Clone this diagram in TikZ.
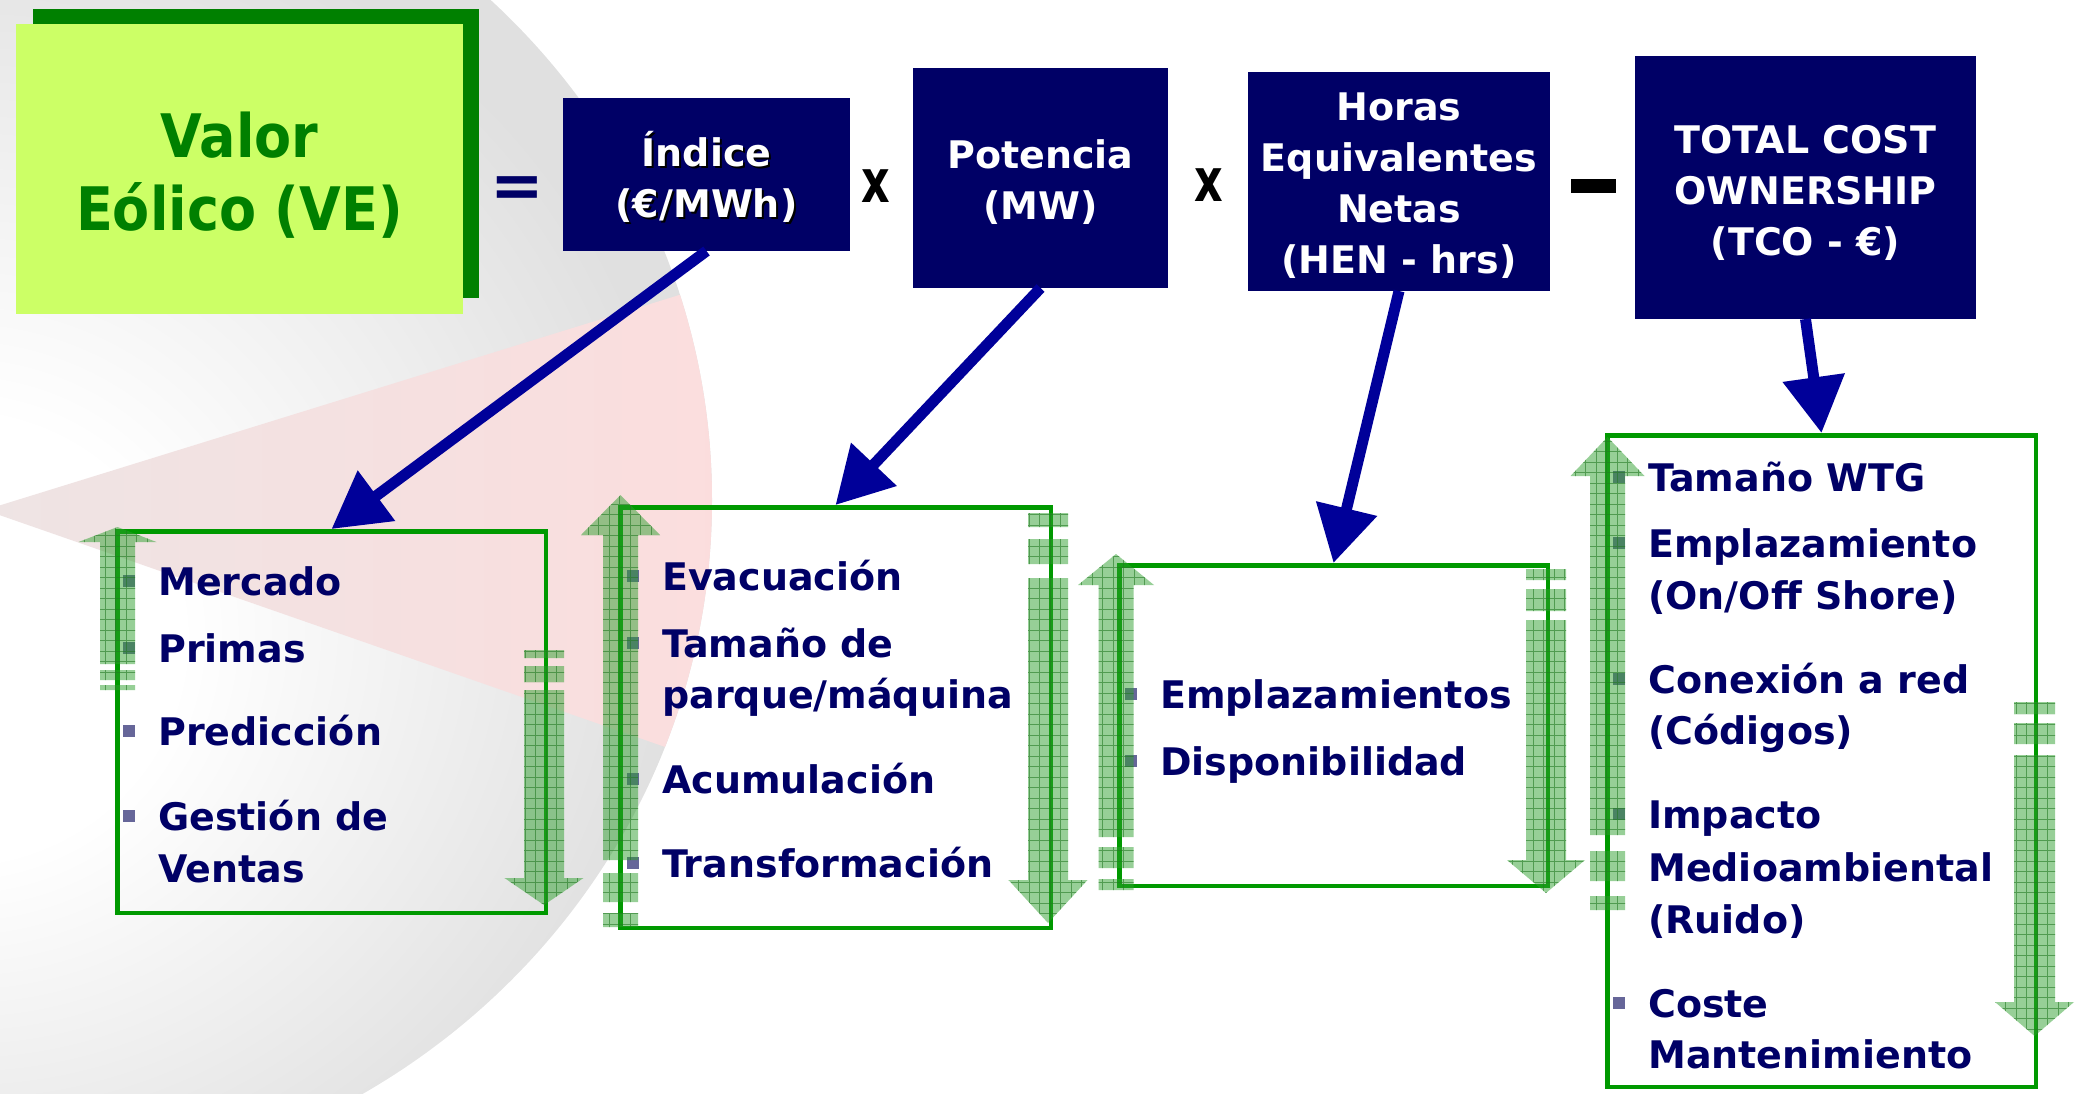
\documentclass[tikz,border=0pt]{standalone}
\usepackage{fontspec}
\setmainfont{DejaVu Sans}
\newfontfamily\narrowfont{DejaVu Sans}[FakeStretch=0.9]
\usetikzlibrary{arrows.meta}
\definecolor{navy}{HTML}{000066}
\definecolor{arrowblue}{HTML}{000099}
\definecolor{limec}{HTML}{CCFF66}
\definecolor{dgreen}{HTML}{008000}
\definecolor{boxgreen}{HTML}{009900}
\definecolor{bulletc}{HTML}{666699}
\definecolor{gfillc}{HTML}{2FA02F}
\pgfdeclareradialshading{bgshade}{\pgfpoint{-2bp}{-6bp}}{color(0bp)=(white); color(8bp)=(white); color(18bp)=(black!7); color(25bp)=(black!12); color(50bp)=(black!12)}
\begin{document}
\begin{tikzpicture}[x=1pt,y=-1pt,
 navybox/.style={fill=navy, inner sep=0pt, outer sep=0pt},
 navytext/.style={text=white, inner sep=0pt, align=center, font=\bfseries\fontsize{38}{51}\selectfont},
 itembox/.style={draw=boxgreen, line width=4.5pt, inner sep=0pt},
 itemtext/.style={anchor=base west, text=navy, inner sep=0pt, font=\bfseries\fontsize{38}{52}\selectfont},
 bul/.style={fill=bulletc, minimum size=12pt, inner sep=0pt, outer sep=0pt},
 conn/.style={draw=arrowblue, line width=11pt, -{Triangle[length=56pt,width=60pt]}},
 gfill/.style={fill=gfillc, fill opacity=0.5},
 ggrid/.style={draw=gfillc!75!black, line width=0.7pt, draw opacity=0.6},
]
\useasboundingbox (0,0) rectangle (2081,1093);
% background
\begin{scope}
\clip (0,0) rectangle (2081,1093);
\shade[shading=bgshade] (0,500) ellipse[x radius=712pt, y radius=690pt];
\clip (0,500) ellipse[x radius=712pt, y radius=690pt];
\shade[left color={rgb,255:red,238;green,228;blue,228}, right color={rgb,255:red,252;green,221;blue,221}] (-15,510) -- (760,270) -- (760,780) -- cycle;
\end{scope}

% title box
\fill[dgreen] (33,9) rectangle (479,298);
\node[fill=limec, minimum width=447, minimum height=290, inner sep=0pt, outer sep=0pt] (ve) at (239.5,169) {};
\node[text=dgreen, inner sep=0pt, align=center, font=\narrowfont\bfseries\fontsize{60}{73}\selectfont] (vet) at (239.5,175) {Valor\\Eólico (VE)};

% navy boxes
\node[navybox, minimum width=287, minimum height=153] (idx) at (706.5,174.5) {};
\node[navytext, text=black] (idxs) at (708.5,178.5) {Índice\\(€/MWh)};
\node[navytext] (idxt) at (706.5,176.5) {Índice\\(€/MWh)};
\node[navybox, minimum width=255, minimum height=220] (pot) at (1040.5,178) {};
\node[navytext] (pott) at (1040.5,182) {Potencia\\(MW)};
\node[navybox, minimum width=302, minimum height=219] (hen) at (1399,181.5) {};
\node[navytext] (hent) at (1399,185.5) {Horas\\Equivalentes\\Netas\\(HEN - hrs)};
\node[navybox, minimum width=341, minimum height=263] (tco) at (1805.5,187.5) {};
\node[navytext] (tcot) at (1805.5,192.5) {TOTAL COST\\OWNERSHIP\\(TCO - €)};

% operators
\node[text=navy, inner sep=0pt, font=\bfseries\fontsize{64}{64}\selectfont] (eq) at (517,192) {=};
\node[text=black, inner sep=0pt, font=\bfseries\fontsize{60}{60}\selectfont] (x1) at (876,186.5) {\scalebox{0.74}[1]{x}};
\node[text=black, inner sep=0pt, font=\bfseries\fontsize{60}{60}\selectfont] (x2) at (1208.5,185) {\scalebox{0.74}[1]{x}};
\node[fill=black, minimum width=45, minimum height=14, inner sep=0pt, outer sep=0pt] (minus) at (1593.5,186) {};

% bottom boxes
\node[itembox, minimum width=428.5, minimum height=381.5] (b1) at (331.5,722) {};
\node[itembox, minimum width=430.5, minimum height=420.5] (b2) at (835.5,717.5) {};
\node[itembox, minimum width=428.5, minimum height=320.5] (b3) at (1333.5,725.5) {};
\node[itembox, minimum width=428.5, minimum height=651.5] (b4) at (1821.5,761) {};

% box 1 items
\node[bul] (u11) at (129,580.5) {};
\node[bul] (u12) at (129,647.5) {};
\node[bul] (u13) at (129,730.5) {};
\node[bul] (u14) at (129,815.5) {};
\node[itemtext] (t11) at (158,595) {Mercado};
\node[itemtext] (t12) at (158,662) {Primas};
\node[itemtext] (t13) at (158,745) {Predicción};
\node[itemtext] (t14) at (158,830) {Gestión de};
\node[itemtext] (t15) at (158,882) {Ventas};
% box 2 items
\node[bul] (u21) at (632.5,575.5) {};
\node[bul] (u22) at (632.5,642.5) {};
\node[bul] (u23) at (632.5,778.5) {};
\node[bul] (u24) at (632.5,862.5) {};
\node[itemtext] (t21) at (662,590) {Evacuación};
\node[itemtext] (t22) at (662,657) {Tamaño de};
\node[itemtext] (t23) at (662,708) {parque/máquina};
\node[itemtext] (t24) at (662,793) {Acumulación};
\node[itemtext] (t25) at (662,877) {Transformación};
% box 3 items
\node[bul] (u31) at (1130.5,693.5) {};
\node[bul] (u32) at (1130.5,760.5) {};
\node[itemtext] (t31) at (1160,708) {Emplazamientos};
\node[itemtext] (t32) at (1160,775) {Disponibilidad};
% box 4 items
\node[bul] (u41) at (1619,476.5) {};
\node[bul] (u42) at (1619,542.5) {};
\node[bul] (u43) at (1619,678.5) {};
\node[bul] (u44) at (1619,813.5) {};
\node[bul] (u45) at (1619,1002.5) {};
\node[itemtext] (t41) at (1648,491) {Tamaño WTG};
\node[itemtext] (t42) at (1648,557) {Emplazamiento};
\node[itemtext] (t43) at (1648,609) {(On/Off Shore)};
\node[itemtext] (t44) at (1648,693) {Conexión a red};
\node[itemtext] (t45) at (1648,744) {(Códigos)};
\node[itemtext] (t46) at (1648,828) {Impacto};
\node[itemtext] (t47) at (1648,881) {Medioambiental};
\node[itemtext] (t48) at (1648,933) {(Ruido)};
\node[itemtext] (t49) at (1648,1017) {Coste};
\node[itemtext] (t410) at (1648,1068) {Mantenimiento};

% green striped arrows
\foreach \gcx/\ghw/\ghh/\gtip/\gbase/\gend/\gsa/\gsb/\gsc/\gsd in {
 117.5/17.5/39/527/542/664/670/680/685/690,
 544/20/39.5/905/878/690/666/682/650/658,
 620.5/17.5/39.5/495/535/860/873/902/913/927,
 1048/20/39.5/923/880/578/539/564/513/527,
 1116/17.5/38/554/585/837/847/868/879/890,
 1546/20/39/893/860/620/589/611/569/580,
 1607.5/17.5/37/437/476/835/851/881/896/910,
 2034.5/20.5/39.5/1036/1002/755/723/744/702/714}{
 \begin{scope}
 \clip (\gcx-\ghw,\gend) -- (\gcx-\ghw,\gbase) -- (\gcx-\ghh,\gbase) -- (\gcx,\gtip) -- (\gcx+\ghh,\gbase) -- (\gcx+\ghw,\gbase) -- (\gcx+\ghw,\gend) -- cycle
   (\gcx-\ghw,\gsa) rectangle (\gcx+\ghw,\gsb) (\gcx-\ghw,\gsc) rectangle (\gcx+\ghw,\gsd);
 \fill[gfill] (\gcx-50,400) rectangle (\gcx+50,1100);
 \draw[ggrid, step=10.5pt] (\gcx-50,1100) grid (\gcx+50,400);
 \end{scope}
}

% navy connectors
\draw[conn] (idx.south) -- (b1.north);
\draw[conn] (pot.south) -- (b2.north);
\draw[conn] (hen.south) -- (b3.north);
\draw[conn] (tco.south) -- (b4.north);
\end{tikzpicture}
\end{document}
